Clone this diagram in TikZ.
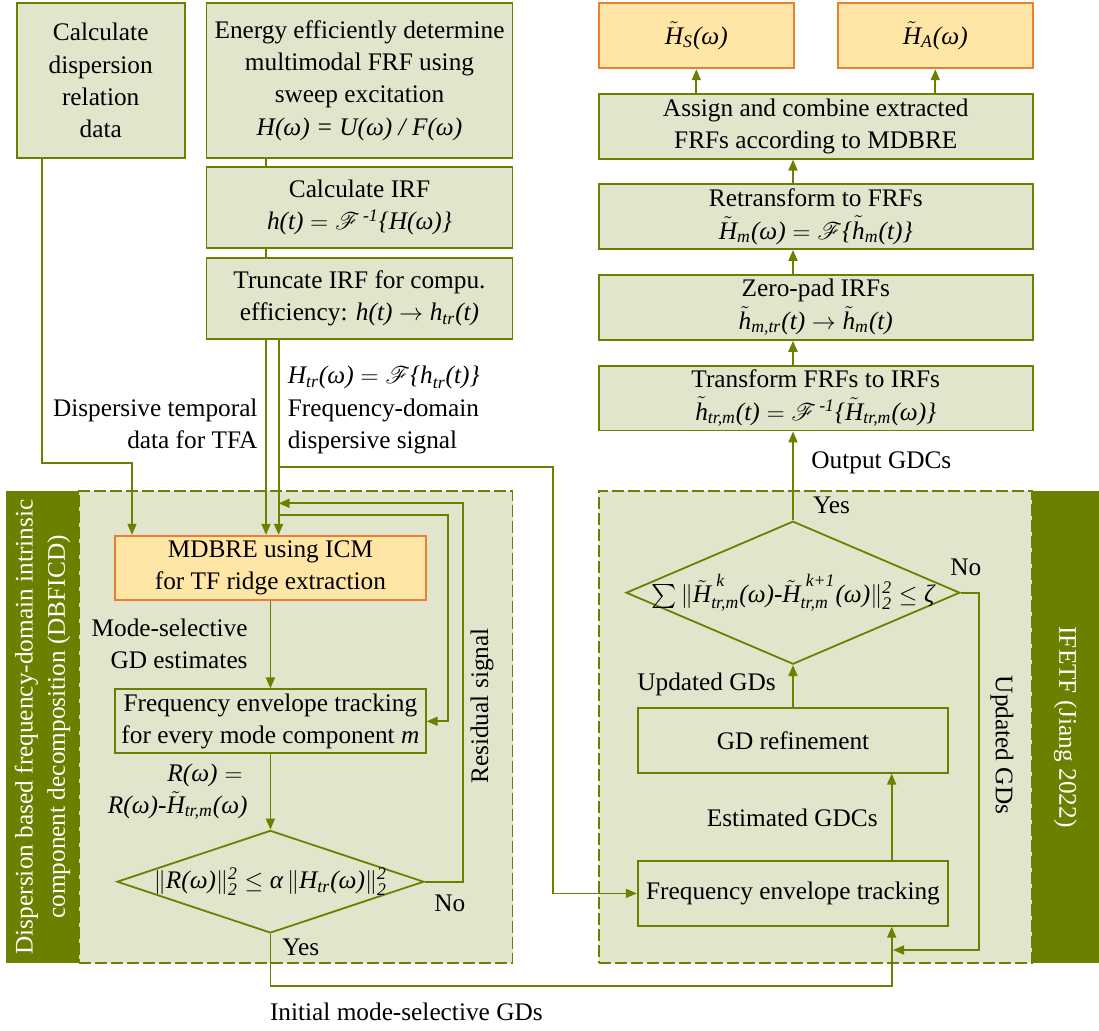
\documentclass[tikz,border=0pt]{standalone}
\usepackage{fontspec}
\usepackage{amsmath}
\usepackage{mathrsfs}
\setmainfont{Liberation Serif}
\usetikzlibrary{shapes.geometric, arrows.meta}

\definecolor{leaf}{RGB}{108,128,0}
\definecolor{boxfill}{RGB}{225,229,204}
\definecolor{keyfill}{RGB}{255,230,166}
\definecolor{keyline}{RGB}{237,125,49}

\newcommand{\figfont}{\fontsize{12.65pt}{16.15pt}\selectfont}
\newcommand{\mi}[1]{\textit{#1}}
\newcommand{\tH}{\tilde{\mi{H}}}
\newcommand{\tlh}{\tilde{\mi{h}}}
\newcommand{\Fr}{\mathscr{F}}

\begin{document}
\begin{tikzpicture}[
    x=0.5pt, y=-0.5pt,
    % Node styles
    block/.style={
        draw=leaf,
        fill=boxfill,
        line width=0.9pt,
        inner sep=0pt,
        align=center,
        font=\figfont
    },
    keybox/.style={block, draw=keyline, fill=keyfill},
    decision/.style={block, diamond, aspect=2},
    panel/.style={draw=leaf, fill=boxfill, line width=0.9pt, dash pattern=on 6pt off 2pt, inner sep=0pt},
    bar/.style={fill=leaf, text=white, inner sep=0pt, align=center, font=\figfont},
    lbl/.style={inner sep=0pt, font=\figfont},
    % Arrow style
    link/.style={draw=leaf, line width=0.9pt},
    arrow/.style={link, -{Triangle[length=5.5pt, width=4.5pt]}}
    ]

    \useasboundingbox[fill=white] (0,0) rectangle (1099,1030);

    % Panels with side bars
    \node[panel, minimum width=216.95pt, minimum height=236pt] (dbficd) at (295.55,727) {};
    \node[bar, rotate=90, minimum width=236pt, minimum height=36.1pt] (dbficdbar) at (42.5,727)
        {Dispersion based frequency-domain intrinsic\\component decomposition (DBFICD)};
    \node[panel, minimum width=216.4pt, minimum height=236pt] (ifetf) at (815.2,727) {};
    \node[bar, rotate=-90, minimum width=236pt, minimum height=33.7pt] (ifetfbar) at (1065.3,727)
        {IFETF (Jiang 2022)};

    % Top left column
    \node[block, minimum width=83.9pt, minimum height=77.2pt] (calc) at (100.7,80.5)
        {Calculate\\dispersion\\relation\\data};
    \node[block, minimum width=153.05pt, minimum height=77.2pt] (energy) at (359.5,80.5)
        {Energy efficiently determine\\multimodal FRF using\\sweep excitation\\\mi{H(ω) = U(ω) / F(ω)}};
    \node[block, minimum width=153.05pt, minimum height=40.8pt] (irf) at (359.5,207.5)
        {Calculate IRF\\$\mi{h(t)} = \Fr^{\,\mi{-1}}\mi{\{H(ω)\}}$};
    \node[block, minimum width=153.05pt, minimum height=40.8pt] (trunc) at (359.5,298.5)
        {Truncate IRF for compu.\\efficiency: $\mi{h(t)} \rightarrow \mi{h}_{\mi{tr}}\mi{(t)}$};

    % Top right column
    \node[keybox, minimum width=97.5pt, minimum height=32.5pt] (hs) at (696.3,35.8)
        {$\tH_{\mi{S}}\mi{(ω)}$};
    \node[keybox, minimum width=97.5pt, minimum height=32.5pt] (ha) at (935.3,35.8)
        {$\tH_{\mi{A}}\mi{(ω)}$};
    \node[block, minimum width=216.95pt, minimum height=32.35pt] (assign) at (815.8,126.3)
        {Assign and combine extracted\\FRFs according to MDBRE};
    \node[block, minimum width=216.95pt, minimum height=32.35pt] (retrans) at (815.8,216.7)
        {Retransform to FRFs\\$\tH_{\mi{m}}\mi{(ω)} = \Fr\mi{\{}\tlh_{\mi{m}}\mi{(t)\}}$};
    \node[block, minimum width=216.95pt, minimum height=32.35pt] (zeropad) at (815.8,307.5)
        {Zero-pad IRFs\\$\tlh_{\mi{m,tr}}\mi{(t)} \rightarrow \tlh_{\mi{m}}\mi{(t)}$};
    \node[block, minimum width=216.95pt, minimum height=32.35pt] (transf) at (815.8,398.2)
        {Transform FRFs to IRFs\\$\tlh_{\mi{tr,m}}\mi{(t)} = \Fr^{\,\mi{-1}}\mi{\{}\tH_{\mi{tr,m}}\mi{(ω)\}}$};

    % DBFICD loop
    \node[keybox, minimum width=155.35pt, minimum height=32.15pt] (mdbre) at (270.4,567.9)
        {MDBRE using ICM\\for TF ridge extraction};
    \node[block, minimum width=155.35pt, minimum height=32pt] (fetl) at (270.4,721.3)
        {Frequency envelope tracking\\for every mode component \mi{m}};
    \node[decision, minimum width=153.5pt, minimum height=51.3pt] (diamL) at (270.4,881.7) {};
    \node[lbl] (diamLtext) at (diamL)
        {$\|\mi{R(ω)}\|_{\mi{2}}^{\mi{2}} \leq \mi{α}\,\|\mi{H}_{\mi{tr}}\mi{(ω)}\|_{\mi{2}}^{\mi{2}}$};

    % IFETF loop
    \node[decision, minimum width=166.9pt, minimum height=71.5pt] (diamR) at (793,592.7) {};
    \node[lbl] (diamRtext) at (diamR)
        {$\sum\|\tH_{\mi{tr,m}}^{\;\mi{k}}\mi{(ω)\text{-}}\tH_{\mi{tr,m}}^{\;\mi{k+1}}\mi{(ω)}\|_{\mi{2}}^{\mi{2}} \leq \mi{ζ}$};
    \node[block, minimum width=155.25pt, minimum height=32.2pt] (gdref) at (793,740.5) {GD refinement};
    \node[block, minimum width=155.25pt, minimum height=32.35pt] (fetr) at (793,893.4) {Frequency envelope tracking};

    % Bend points
    \coordinate (calcturn) at (41.8,463.3);
    \coordinate (tfain) at (132,463.3);
    \coordinate (irfcol) at (266,0);
    \coordinate (sigsplit) at (278.6,466.7);
    \coordinate (longcol) at (553,466.7);
    \coordinate (resin) at (278.6,503.3);
    \coordinate (rescol) at (463.3,503.3);
    \coordinate (fetsplit) at (278.6,515);
    \coordinate (fetcol) at (448.2,515);
    \coordinate (gdcol) at (891.7,986);
    \coordinate (nocol) at (978.7,950);
    \coordinate (noend) at (893,950);

    % Connectors, left part
    \draw[link] (energy.south -| irfcol) -- (irf.north -| irfcol);
    \draw[link] (irf.south -| irfcol) -- (trunc.north -| irfcol);
    \draw[arrow] (calc.south -| calcturn) -- (calcturn) -- (tfain) -- (mdbre.north -| tfain);
    \draw[arrow] (trunc.south -| irfcol) -- (mdbre.north -| irfcol);
    \draw[arrow] (trunc.south -| sigsplit) -- (mdbre.north -| sigsplit);
    \draw[arrow] (sigsplit) -- (longcol) |- (fetr.west);
    \draw[arrow] (fetsplit) -- (fetcol) |- (fetl.east);
    \draw[arrow] (mdbre) -- (fetl);
    \draw[arrow] (fetl) -- (diamL);
    \draw[arrow] (diamL.east) -- (diamL.east -| rescol) -- (rescol) -- (resin);
    \draw[arrow] (diamL.south) |- (gdcol) -- (fetr.south -| gdcol);

    % Connectors, right part
    \draw[arrow] (fetr.north -| gdcol) -- (gdref.south -| gdcol);
    \draw[arrow] (gdref) -- (diamR);
    \draw[arrow] (diamR.east) -| (nocol) -- (noend);
    \draw[arrow] (diamR.north) -- (transf.south -| diamR.north);
    \draw[arrow] (transf.north -| diamR.north) -- (zeropad.south -| diamR.north);
    \draw[arrow] (zeropad.north -| diamR.north) -- (retrans.south -| diamR.north);
    \draw[arrow] (retrans.north -| diamR.north) -- (assign.south -| diamR.north);
    \draw[arrow] (assign.north -| hs) -- (hs.south);
    \draw[arrow] (assign.north -| ha) -- (ha.south);

    % Labels (base anchor of a multi-line label is its last line)
    \node[lbl, anchor=base east, align=right] (tfalbl) at (257.9,448.3) {Dispersive temporal\\data for TFA};
    \node[lbl, anchor=base west, align=left] (htrlbl) at (287.5,448.3)
        {$\mi{H}_{\mi{tr}}\mi{(ω)} = \Fr\mi{\{h}_{\mi{tr}}\mi{(t)\}}$\\Frequency-domain\\dispersive signal};
    \node[lbl, anchor=base east, align=right] (modelbl) at (248,668.3) {Mode-selective\\GD estimates};
    \node[lbl, anchor=base east, align=right] (rlbl) at (248,813.3)
        {$\mi{R(ω)} =$\hspace*{2.5pt}\\$\mi{R(ω)}\mi{-}\tH_{\mi{tr,m}}\mi{(ω)}$};
    \node[lbl, rotate=90] (reslbl) at (482,706) {Residual signal};
    \node[lbl, anchor=base west] (nolbl) at (434,911.7) {No};
    \node[lbl, anchor=base west] (yeslbl) at (282,955) {Yes};
    \node[lbl, anchor=base west] (initlbl) at (269.6,1020) {Initial mode-selective GDs};
    \node[lbl, anchor=base west] (outlbl) at (811,468) {Output GDCs};
    \node[lbl, anchor=base west] (yesrlbl) at (812.7,513.3) {Yes};
    \node[lbl, anchor=base west] (norlbl) at (950,575) {No};
    \node[lbl, anchor=base west] (updlbl) at (637,690) {Updated GDs};
    \node[lbl, rotate=-90] (updrlbl) at (1002,745) {Updated GDs};
    \node[lbl, anchor=base east] (estlbl) at (878,826.7) {Estimated GDCs};

\end{tikzpicture}
\end{document}
